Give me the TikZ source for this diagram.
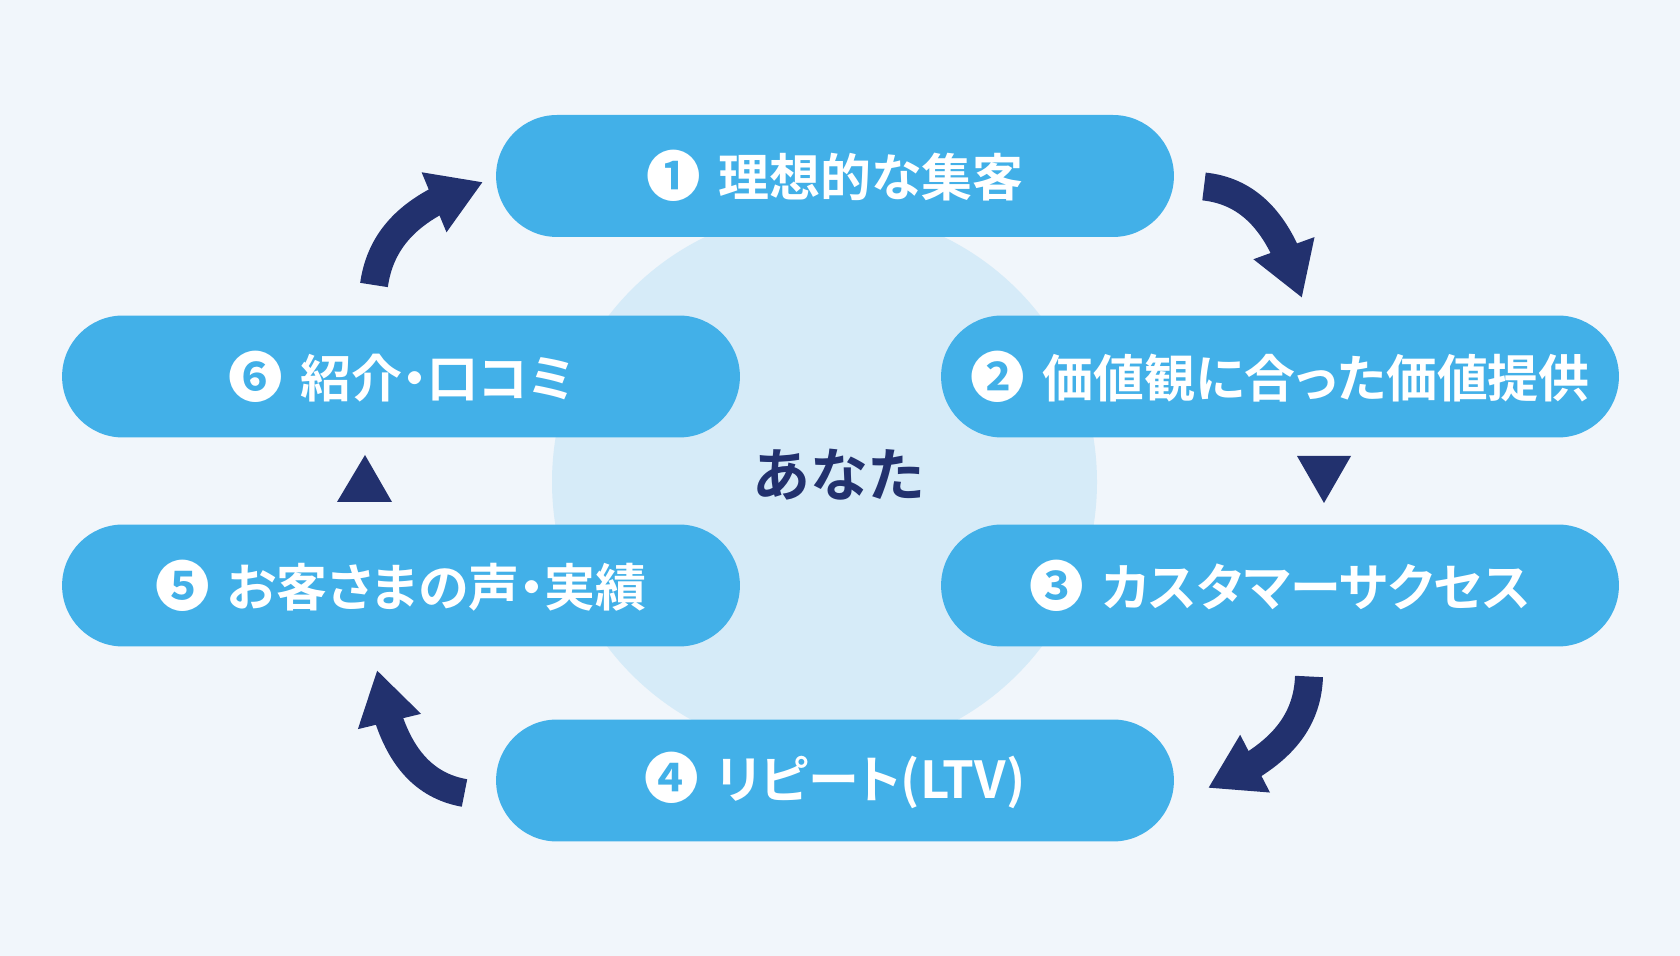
\documentclass[tikz,border=0pt]{standalone}
\usepackage{fontspec}
\newfontfamily\jp{Noto Sans CJK JP Bold}
\newfontfamily\jpp{Noto Sans CJK JP Bold}[RawFeature=+palt]
\usetikzlibrary{arrows.meta,bending}
\definecolor{bg}{HTML}{F1F6FB}
\definecolor{sky}{HTML}{42B0E8}
\definecolor{pale}{HTML}{D6EBF8}
\definecolor{navy}{HTML}{22316E}

\begin{document}
\begin{tikzpicture}[x=0.02cm,y=0.02cm,
  stage/.style={fill=sky,rounded corners=1.22cm,minimum width=13.56cm,minimum height=2.44cm,
    inner sep=0pt,text=white,font=\jpp\fontsize{29}{29}\selectfont},
  cyc/.style={navy,line width=0.56cm,-{Triangle[length=1.06cm,width=1.22cm,flex]}}]
\fill[bg] (0,0) rectangle (1680,956);
\useasboundingbox (0,0) rectangle (1680,956);
\fill[pale] (824.5,474) circle (272.5);
\node[stage] (s1) at (835,780) {{\jp\fontsize{31}{31}\selectfont❶}\hspace{0.35em}理想的な集客};
\node[stage] (s2) at (1280,579.5) {{\jp\fontsize{31}{31}\selectfont❷}\hspace{0.35em}価値観に合った価値提供};
\node[stage] (s3) at (1280,370.5) {{\jp\fontsize{31}{31}\selectfont❸}\hspace{0.35em}カスタマーサクセス};
\node[stage] (s4) at (835,175.5) {{\jp\fontsize{31}{31}\selectfont❹}\hspace{0.35em}リピート(LTV)};
\node[stage] (s5) at (401,370.5) {{\jp\fontsize{31}{31}\selectfont❺}\hspace{0.35em}お客さまの声・実績};
\node[stage] (s6) at (401,579.5) {{\jp\fontsize{31}{31}\selectfont❻}\hspace{0.35em}紹介・口コミ};
\node[text=navy,font=\jp\fontsize{33}{33}\selectfont] (you) at (839,481) {あなた};
% curved arrows round the cycle
\coordinate (t1) at (374,671); \coordinate (h1) at (483,774);
\coordinate (t2) at (1204,769.5); \coordinate (h2) at (1302,658);
\coordinate (t3) at (1309,279.5); \coordinate (h3) at (1208,168);
\coordinate (t4) at (464.5,163); \coordinate (h4) at (377,286);
\draw[cyc] (t1) to[out=82,in=198] (h1);
\draw[cyc] (t2) to[out=-6,in=105.5] (h2);
\draw[cyc] (t3) to[out=-92,in=23.5] (h3);
\draw[cyc] (t4) to[out=170,in=-80.6] (h4);
\fill[navy] (1297,500) -- (1351,500) -- (1324,453) -- cycle
  (337,454) -- (365,501) -- (392,454) -- cycle;
\end{tikzpicture}
\end{document}
